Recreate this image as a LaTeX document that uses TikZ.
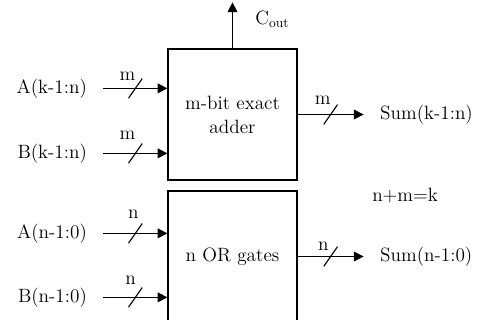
\documentclass[tikz,border=0pt]{standalone}
\usepackage{tikz}
\usetikzlibrary{positioning,arrows.meta,calc}

\begin{document}
\begin{tikzpicture}[
    font=\fontsize{13.7}{17}\selectfont,
    >={Triangle[length=7pt,width=7pt]},
    block/.style={
        draw=black,
        minimum width=3.225cm,
        minimum height=3.275cm,
        align=center,
        line width=0.9pt
    },
    sig/.style={
        inner xsep=11.5pt
    },
    bus/.style={
        inner sep=0pt,
        minimum width=0.35cm,
        minimum height=0.5cm,
        path picture={\draw[-, line width=0.8pt]
            (path picture bounding box.south west) --
            (path picture bounding box.north east);}
    },
    flow/.style={->, line width=0.9pt}
]

\clip (0,0) rectangle (12.15,-8);

%-----------------------------------
% Blocks
%-----------------------------------
\node[block] (Adder) at (5.8125,-2.8625) {m-bit exact\\adder};
\node[block] (OrGates) at (5.8125,-6.4125) {n OR gates};

%-----------------------------------
% Inputs
%-----------------------------------
\node[sig, anchor=east] (Akn) at ([xshift=-1.6cm,yshift=-1.0cm]Adder.north west) {A(k-1:n)};
\node[sig, anchor=east] (Bkn) at ([xshift=-1.6cm,yshift=-2.625cm]Adder.north west) {B(k-1:n)};
\node[sig, anchor=east] (An0) at ([xshift=-1.6cm,yshift=-1.075cm]OrGates.north west) {A(n-1:0)};
\node[sig, anchor=east] (Bn0) at ([xshift=-1.6cm,yshift=-2.675cm]OrGates.north west) {B(n-1:0)};

\draw[flow] (Akn.east) -- (Akn.east -| Adder.west)
    node[bus, midway, label={[xshift=-0.2cm,yshift=-0.2cm]above:m}] {};
\draw[flow] (Bkn.east) -- (Bkn.east -| Adder.west)
    node[bus, midway, label={[xshift=-0.2cm,yshift=-0.05cm]above:m}] {};
\draw[flow] (An0.east) -- (An0.east -| OrGates.west)
    node[bus, midway, label={[xshift=-0.05cm,yshift=-0.03cm]above:n}] {};
\draw[flow] (Bn0.east) -- (Bn0.east -| OrGates.west)
    node[bus, midway, label={[xshift=-0.12cm,yshift=-0.08cm]above:n}] {};

%-----------------------------------
% Outputs
%-----------------------------------
\node[sig, anchor=west] (Skn) at ([xshift=1.65cm]Adder.east) {Sum(k-1:n)};
\node[sig, anchor=west] (Sn0) at ([xshift=1.65cm]OrGates.east) {Sum(n-1:0)};

\draw[flow] (Adder.east) -- (Skn.west)
    node[bus, midway, label={[xshift=-0.2cm,yshift=-0.15cm]above:m}] {};
\draw[flow] (OrGates.east) -- (Sn0.west)
    node[bus, midway, label={[xshift=-0.18cm,yshift=-0.25cm]above:n}] {};

% carry out
\coordinate (Ctop) at ([yshift=1.15cm]Adder.north);
\draw[flow] (Adder.north) -- (Ctop);
\node[anchor=west] (Cout) at ([xshift=0.45cm,yshift=0.72cm]Adder.north) {C\textsubscript{out}};

\node (Rel) at (10.125,-4.9) {n+m=k};

\end{tikzpicture}
\end{document}
